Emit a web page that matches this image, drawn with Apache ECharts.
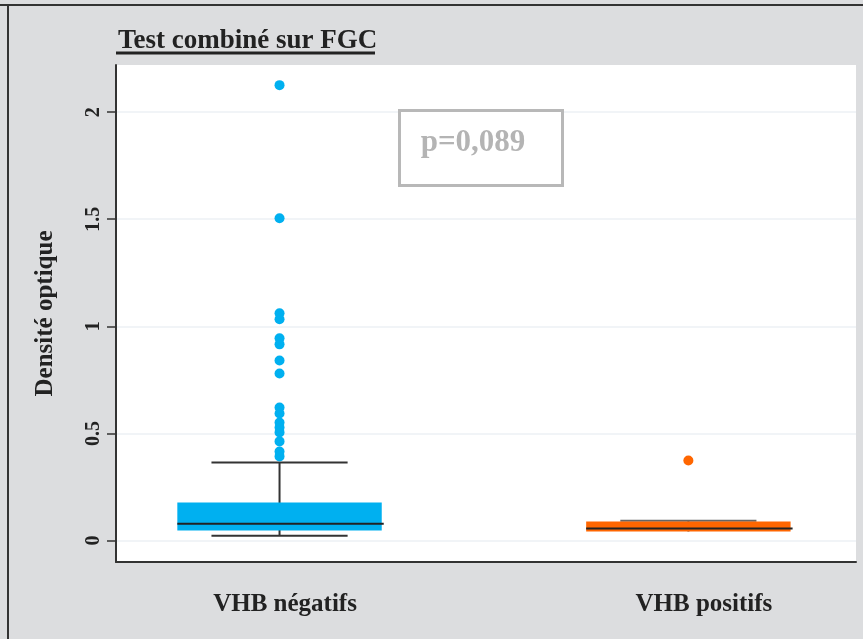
<!DOCTYPE html>
<html>
<head>
<meta charset="utf-8">
<script src="https://cdn.jsdelivr.net/npm/echarts@6/dist/echarts.min.js"></script>
<style>
	html, body { margin: 0; padding: 0; background: #dcdddf; }
	#chart { width: 863px; height: 639px; }
</style>
</head>
<body>
<div id="chart"></div>
<script>
// groupes et statistiques des boîtes (densité optique)
var groups = ['VHB négatifs', 'VHB positifs'];
var groupPos = [1, 2];
var lowerWhisker = [0.023, 0.042];
var q1 = [0.047, 0.042];
var median = [0.079, 0.056];
var q3 = [0.178, 0.089];
var upperWhisker = [0.365, 0.093];
// valeurs extrêmes
var outliersNeg = [2.126, 1.505, 1.061, 1.033, 0.944, 0.916, 0.841, 0.780, 0.621, 0.593, 0.551, 0.528, 0.505, 0.463, 0.416, 0.393];
var outliersPos = [0.374];
var yTicks = [0, 0.5, 1, 1.5, 2];
var pText = 'p=0,089';

var boxColors = ['#00b0f0', '#ff6600'];
var capColors = ['#333333', '#666666'];
var serif = '"Liberation Serif", "Times New Roman", serif';

var dom = document.getElementById('chart');
var myChart = echarts.init(dom);

var boxData = [];
for (var i = 0; i < groups.length; i++) {
	boxData.push([groupPos[i], lowerWhisker[i], q1[i], median[i], q3[i], upperWhisker[i], i]);
}
var negPoints = outliersNeg.map(function (v) { return [groupPos[0], v]; });
var posPoints = outliersPos.map(function (v) { return [groupPos[1], v]; });

function renderBox(params, api) {
	var idx = api.value(6);
	var x = api.value(0);
	var halfBox = api.size([0.5, 0])[0] / 2;
	var halfCap = api.size([0.333, 0])[0] / 2;
	var c = api.coord([x, api.value(1)]);
	var px = c[0];
	var yLow = c[1];
	var yQ1 = api.coord([x, api.value(2)])[1];
	var yMed = api.coord([x, api.value(3)])[1];
	var yQ3 = api.coord([x, api.value(4)])[1];
	var yUp = api.coord([x, api.value(5)])[1];
	var lineStyle = { stroke: capColors[idx], lineWidth: 2 };
	var children = [
		{ type: 'line', shape: { x1: px, y1: yLow, x2: px, y2: yUp }, style: lineStyle },
		{ type: 'line', shape: { x1: px - halfCap, y1: yUp, x2: px + halfCap, y2: yUp }, style: lineStyle }
	];
	// pas de moustache basse quand elle se confond avec Q1
	if (api.value(1) < api.value(2)) {
		children.push({ type: 'line', shape: { x1: px - halfCap, y1: yLow, x2: px + halfCap, y2: yLow }, style: lineStyle });
	}
	children.push({ type: 'rect', shape: { x: px - halfBox, y: yQ3, width: halfBox * 2, height: yQ1 - yQ3 }, style: { fill: boxColors[idx] } });
	children.push({ type: 'line', shape: { x1: px - halfBox, y1: yMed, x2: px + halfBox + 2, y2: yMed }, style: { stroke: '#222222', lineWidth: 2 } });
	return { type: 'group', children: children };
}

var option = {
	backgroundColor: '#dcdddf',
	animation: false,
	title: {
		text: 'Test combiné sur FGC',
		left: 113,
		top: 23,
		textStyle: { fontFamily: serif, fontWeight: 'bold', fontSize: 27, color: '#222222' }
	},
	grid: {
		left: 116,
		right: 7,
		top: 65,
		bottom: 77,
		show: true,
		backgroundColor: '#ffffff',
		borderWidth: 0
	},
	xAxis: {
		type: 'value',
		min: 0.6,
		max: 2.41,
		axisLine: { show: true, onZero: false, lineStyle: { color: '#333333', width: 2 } },
		axisTick: { show: false },
		splitLine: { show: false },
		axisLabel: {
			customValues: groupPos,
			margin: 30,
			formatter: function (v) {
				var i = groupPos.indexOf(v);
				return i === 0 ? '{a|' + groups[i] + '}' : '{b|' + groups[i] + '}';
			},
			rich: {
				a: { fontFamily: serif, fontWeight: 'bold', fontSize: 25, color: '#222222', padding: [0, 0, 0, 11] },
				b: { fontFamily: serif, fontWeight: 'bold', fontSize: 25, color: '#222222', padding: [0, 0, 0, 31] }
			}
		}
	},
	yAxis: {
		type: 'value',
		min: -0.1,
		max: 2.22,
		name: 'Densité optique',
		nameLocation: 'middle',
		nameGap: 58,
		nameRotate: 90,
		nameTextStyle: { fontFamily: serif, fontWeight: 'bold', fontSize: 25, color: '#222222' },
		axisLine: { show: true, onZero: false, lineStyle: { color: '#333333', width: 2 } },
		axisTick: { show: true, customValues: yTicks, length: 9, lineStyle: { color: '#333333', width: 1.5 } },
		axisLabel: {
			customValues: yTicks,
			rotate: 90,
			margin: 12,
			fontFamily: serif,
			fontWeight: 'bold',
			fontSize: 20,
			color: '#222222'
		},
		splitLine: { show: true, lineStyle: { color: '#edf1f4', width: 1.5 } }
	},
	graphic: [
		{ type: 'line', shape: { x1: 0, y1: 5, x2: 863, y2: 5 }, style: { stroke: '#333333', lineWidth: 2 } },
		{ type: 'line', shape: { x1: 8, y1: 5, x2: 8, y2: 639 }, style: { stroke: '#333333', lineWidth: 2 } },
		{ type: 'line', shape: { x1: 116, y1: 53, x2: 375, y2: 53 }, style: { stroke: '#222222', lineWidth: 3 } },
		{
			type: 'rect', left: 398, top: 109, z: 100,
			shape: { width: 163, height: 75 },
			style: { fill: '#ffffff', stroke: '#b8b8b8', lineWidth: 3 }
		},
		{
			type: 'text', x: 473, y: 143, z: 101,
			style: { text: pText, font: 'bold 31px ' + serif, fill: '#b4b4b4', textAlign: 'center', textVerticalAlign: 'middle' }
		}
	],
	series: [
		{
			type: 'custom',
			renderItem: renderBox,
			data: boxData,
			encode: { x: 0, y: [1, 2, 3, 4, 5] },
			z: 2
		},
		{
			type: 'scatter',
			data: negPoints,
			symbolSize: 10,
			itemStyle: { color: boxColors[0], opacity: 1 },
			z: 3
		},
		{
			type: 'scatter',
			data: posPoints,
			symbolSize: 10,
			itemStyle: { color: boxColors[1], opacity: 1 },
			z: 3
		}
	]
};
myChart.setOption(option);
</script>
</body>
</html>
